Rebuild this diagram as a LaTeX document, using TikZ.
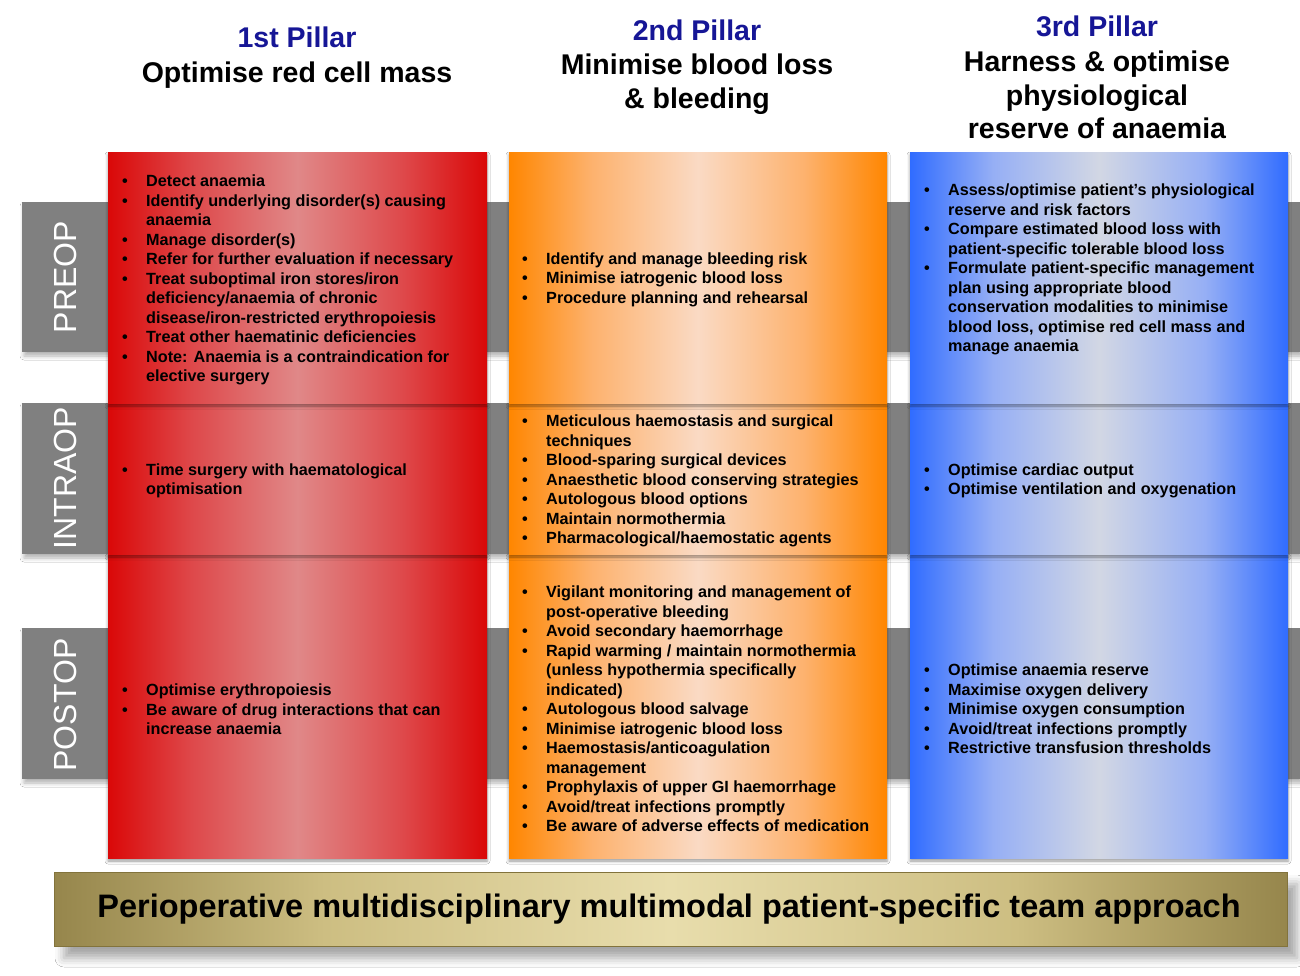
\documentclass[tikz,border=0pt]{standalone}
\usepackage{fontspec}
\setmainfont{Liberation Sans}
\usetikzlibrary{shadows.blur}
\definecolor{bandgrey}{RGB}{128,128,128}
\definecolor{hdrblue}{RGB}{22,22,150}
\definecolor{redE}{RGB}{218,8,8}
\definecolor{redQ}{RGB}{222,72,74}
\definecolor{redC}{RGB}{224,136,136}
\definecolor{oraE}{RGB}{255,134,0}
\definecolor{oraQ}{RGB}{253,178,110}
\definecolor{oraC}{RGB}{250,218,196}
\definecolor{bluE}{RGB}{48,108,255}
\definecolor{bluQ}{RGB}{150,175,245}
\definecolor{bluC}{RGB}{210,215,228}
\definecolor{golE}{RGB}{150,134,76}
\definecolor{golQ}{RGB}{205,190,130}
\definecolor{golC}{RGB}{232,221,172}
\definecolor{golD}{RGB}{130,115,60}
\pgfdeclarehorizontalshading{redsh}{100bp}{color(0bp)=(redE); color(25bp)=(redE); color(36bp)=(redQ); color(50bp)=(redC); color(64bp)=(redQ); color(75bp)=(redE); color(100bp)=(redE)}
\pgfdeclarehorizontalshading{orash}{100bp}{color(0bp)=(oraE); color(25bp)=(oraE); color(36bp)=(oraQ); color(50bp)=(oraC); color(64bp)=(oraQ); color(75bp)=(oraE); color(100bp)=(oraE)}
\pgfdeclarehorizontalshading{blush}{100bp}{color(0bp)=(bluE); color(25bp)=(bluE); color(36bp)=(bluQ); color(50bp)=(bluC); color(64bp)=(bluQ); color(75bp)=(bluE); color(100bp)=(bluE)}
\pgfdeclarehorizontalshading{golsh}{100bp}{color(0bp)=(golE); color(25bp)=(golE); color(36bp)=(golQ); color(50bp)=(golC); color(64bp)=(golQ); color(75bp)=(golE); color(100bp)=(golE)}
\newcommand\bu{\makebox[24pt][l]{\textbullet}}
\newcommand\ind{\hspace*{24pt}}
\begin{document}
\begin{tikzpicture}[x=1pt,y=-1pt,
  band/.style={fill=bandgrey, blur shadow={shadow xshift=2pt, shadow yshift=-4pt, shadow blur radius=4pt, shadow opacity=30}},
  segsh/.style={blur shadow={shadow xshift=0pt, shadow yshift=-3pt, shadow blur radius=3pt, shadow opacity=40}},
  phase/.style={rotate=90, text=white, inner sep=0pt, font=\fontsize{32}{32}\selectfont},
  hdrtop/.style={anchor=base, inner sep=0pt, text=hdrblue, font=\fontsize{28.5}{34}\selectfont\bfseries},
  hdr/.style={anchor=base, inner sep=0pt, text=black, font=\fontsize{28.5}{34}\selectfont\bfseries},
  cell/.style={anchor=west, inner sep=0pt, align=left, text=black, font=\fontsize{16.2}{19.5}\selectfont\bfseries},
  barsty/.style={shading=golsh, draw=golD, line width=1pt, blur shadow={shadow xshift=10pt, shadow yshift=-12pt, shadow blur radius=9pt, shadow opacity=35}}
  ]
\useasboundingbox[fill=white] (0,0) rectangle (1300,975);

% headers
\node[hdrtop] (h1a) at (297,47) {1st Pillar};
\node[hdr] (h1b) at (297,82) {Optimise red cell mass};
\node[hdrtop] (h2a) at (697,40) {2nd Pillar};
\node[hdr] (h2b) at (697,74) {Minimise blood loss};
\node[hdr] (h2c) at (697,108) {\& bleeding};
\node[hdrtop] (h3a) at (1097,36) {3rd Pillar};
\node[hdr] (h3b) at (1097,71) {Harness \& optimise};
\node[hdr] (h3c) at (1097,105) {physiological};
\node[hdr] (h3d) at (1097,138) {reserve of anaemia};

% phase bands
\path[band] (22,202) rectangle (1300,352);
\path[band] (22,403) rectangle (1300,554);
\path[band] (22,628) rectangle (1300,779);
\node[phase] (lpre) at (65,277) {PREOP};
\node[phase] (lintra) at (65,478) {INTRAOP};
\node[phase] (lpost) at (65,705) {POSTOP};

% pillars (bottom segment first so upper shadows fall on lower ones)
\foreach \xa/\xb/\sh in {108/487/redsh, 509/887/orash, 910/1288/blush}{
  \path[segsh, shading=\sh] (\xa,554) rectangle (\xb,858);
  \path[segsh, shading=\sh] (\xa,403) rectangle (\xb,554);
  \path[segsh, shading=\sh] (\xa,152) rectangle (\xb,403);
}

% red pillar
\node[cell] (r1) at (122,280) {\bu Detect anaemia\\
\bu Identify underlying disorder(s) causing\\
\ind anaemia\\
\bu Manage disorder(s)\\
\bu Refer for further evaluation if necessary\\
\bu Treat suboptimal iron stores/iron\\
\ind deficiency/anaemia of chronic\\
\ind disease/iron-restricted erythropoiesis\\
\bu Treat other haematinic deficiencies\\
\bu Note: Anaemia is a contraindication for\\
\ind elective surgery};
\node[cell] (r2) at (122,481) {\bu Time surgery with haematological\\
\ind optimisation};
\node[cell] (r3) at (122,709.5) {\bu Optimise erythropoiesis\\
\bu Be aware of drug interactions that can\\
\ind increase anaemia};

% orange pillar
\node[cell] (o1) at (522,279.5) {\bu Identify and manage bleeding risk\\
\bu Minimise iatrogenic blood loss\\
\bu Procedure planning and rehearsal};
\node[cell] (o2) at (522,481) {\bu Meticulous haemostasis and surgical\\
\ind techniques\\
\bu Blood-sparing surgical devices\\
\bu Anaesthetic blood conserving strategies\\
\bu Autologous blood options\\
\bu Maintain normothermia\\
\bu Pharmacological/haemostatic agents};
\node[cell] (o3) at (522,709) {\bu Vigilant monitoring and management of\\
\ind post-operative bleeding\\
\bu Avoid secondary haemorrhage\\
\bu Rapid warming / maintain normothermia\\
\ind (unless hypothermia specifically\\
\ind indicated)\\
\bu Autologous blood salvage\\
\bu Minimise iatrogenic blood loss\\
\bu Haemostasis/anticoagulation\\
\ind management\\
\bu Prophylaxis of upper GI haemorrhage\\
\bu Avoid/treat infections promptly\\
\bu Be aware of adverse effects of medication};

% blue pillar
\node[cell] (b1) at (924,269.5) {\bu Assess/optimise patient's physiological\\
\ind reserve and risk factors\\
\bu Compare estimated blood loss with\\
\ind patient-specific tolerable blood loss\\
\bu Formulate patient-specific management\\
\ind plan using appropriate blood\\
\ind conservation modalities to minimise\\
\ind blood loss, optimise red cell mass and\\
\ind manage anaemia};
\node[cell] (b2) at (924,481) {\bu Optimise cardiac output\\
\bu Optimise ventilation and oxygenation};
\node[cell] (b3) at (924,709) {\bu Optimise anaemia reserve\\
\bu Maximise oxygen delivery\\
\bu Minimise oxygen consumption\\
\bu Avoid/treat infections promptly\\
\bu Restrictive transfusion thresholds};

% bottom bar
\path[barsty] (54,872) rectangle (1287,946);
\node[inner sep=0pt, font=\fontsize{32.5}{38}\selectfont\bfseries] (bartxt) at (669,909) {Perioperative multidisciplinary multimodal patient-specific team approach};
\end{tikzpicture}
\end{document}
